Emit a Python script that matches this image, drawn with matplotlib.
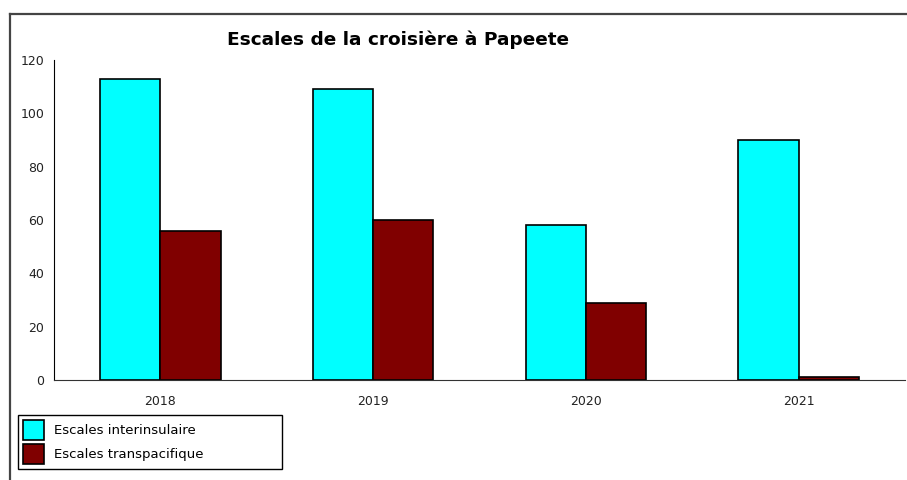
import matplotlib
matplotlib.use("Agg")
import matplotlib.pyplot as plt
from matplotlib.lines import Line2D
import numpy as np

years = ["2018", "2019", "2020", "2021"]
interinsulaire = [113, 109, 58, 90]
transpacifique = [56, 60, 29, 1]
series_labels = ["Escales interinsulaire", "Escales transpacifique"]
title = "Escales de la croisière à Papeete"
yticks = [0, 20, 40, 60, 80, 100, 120]

plt.rcParams['font.family'] = ['DejaVu Sans']

W, H = 907, 480
fig = plt.figure(figsize=(W / 100, H / 100), dpi=100)
ax = fig.add_axes([54 / W, 1 - 380 / H, (905 - 54) / W, (380 - 60) / H])

x = np.arange(len(years)) + 0.5
bw = 0.283
b1 = ax.bar(x - bw / 2, interinsulaire, bw, color="#00FFFF", edgecolor="black", linewidth=1.2, label=series_labels[0])
b2 = ax.bar(x + bw / 2, transpacifique, bw, color="#800000", edgecolor="black", linewidth=1.2, label=series_labels[1])

ax.set_xlim(0, 4)
ax.set_ylim(0, 120)
ax.set_xticks(x)
ax.set_xticklabels(years)
ax.set_yticks(yticks)
ax.tick_params(axis="both", length=0, labelsize=9, colors="#222222")
ax.tick_params(axis="x", pad=11)
ax.tick_params(axis="y", pad=7)
for s in ["top", "right"]:
    ax.spines[s].set_visible(False)
ax.spines["left"].set_color("black")
ax.spines["bottom"].set_color("#333333")

fig.text(398 / W, 1 - 40 / H, title, ha="center", va="center", fontsize=13.3, fontweight="bold")

leg = fig.legend(handles=[b1, b2], labels=series_labels, loc="upper left",
                 bbox_to_anchor=(18 / W, 1 - 415 / H, 264 / W, 0), mode="expand",
                 borderaxespad=0, fontsize=9.5, handlelength=1.6, handleheight=2.0,
                 labelspacing=0.3, handletextpad=0.8, borderpad=0.35, fancybox=False,
                 edgecolor="black", framealpha=1)
leg.get_frame().set_linewidth(1)

fig.add_artist(Line2D([10 / W, 1.0], [1 - 14 / H, 1 - 14 / H], transform=fig.transFigure, color="#444444", linewidth=1.6))
fig.add_artist(Line2D([10 / W, 10 / W], [0, 1 - 14 / H], transform=fig.transFigure, color="#444444", linewidth=1.6))

fig.savefig("out.png", dpi=100)
